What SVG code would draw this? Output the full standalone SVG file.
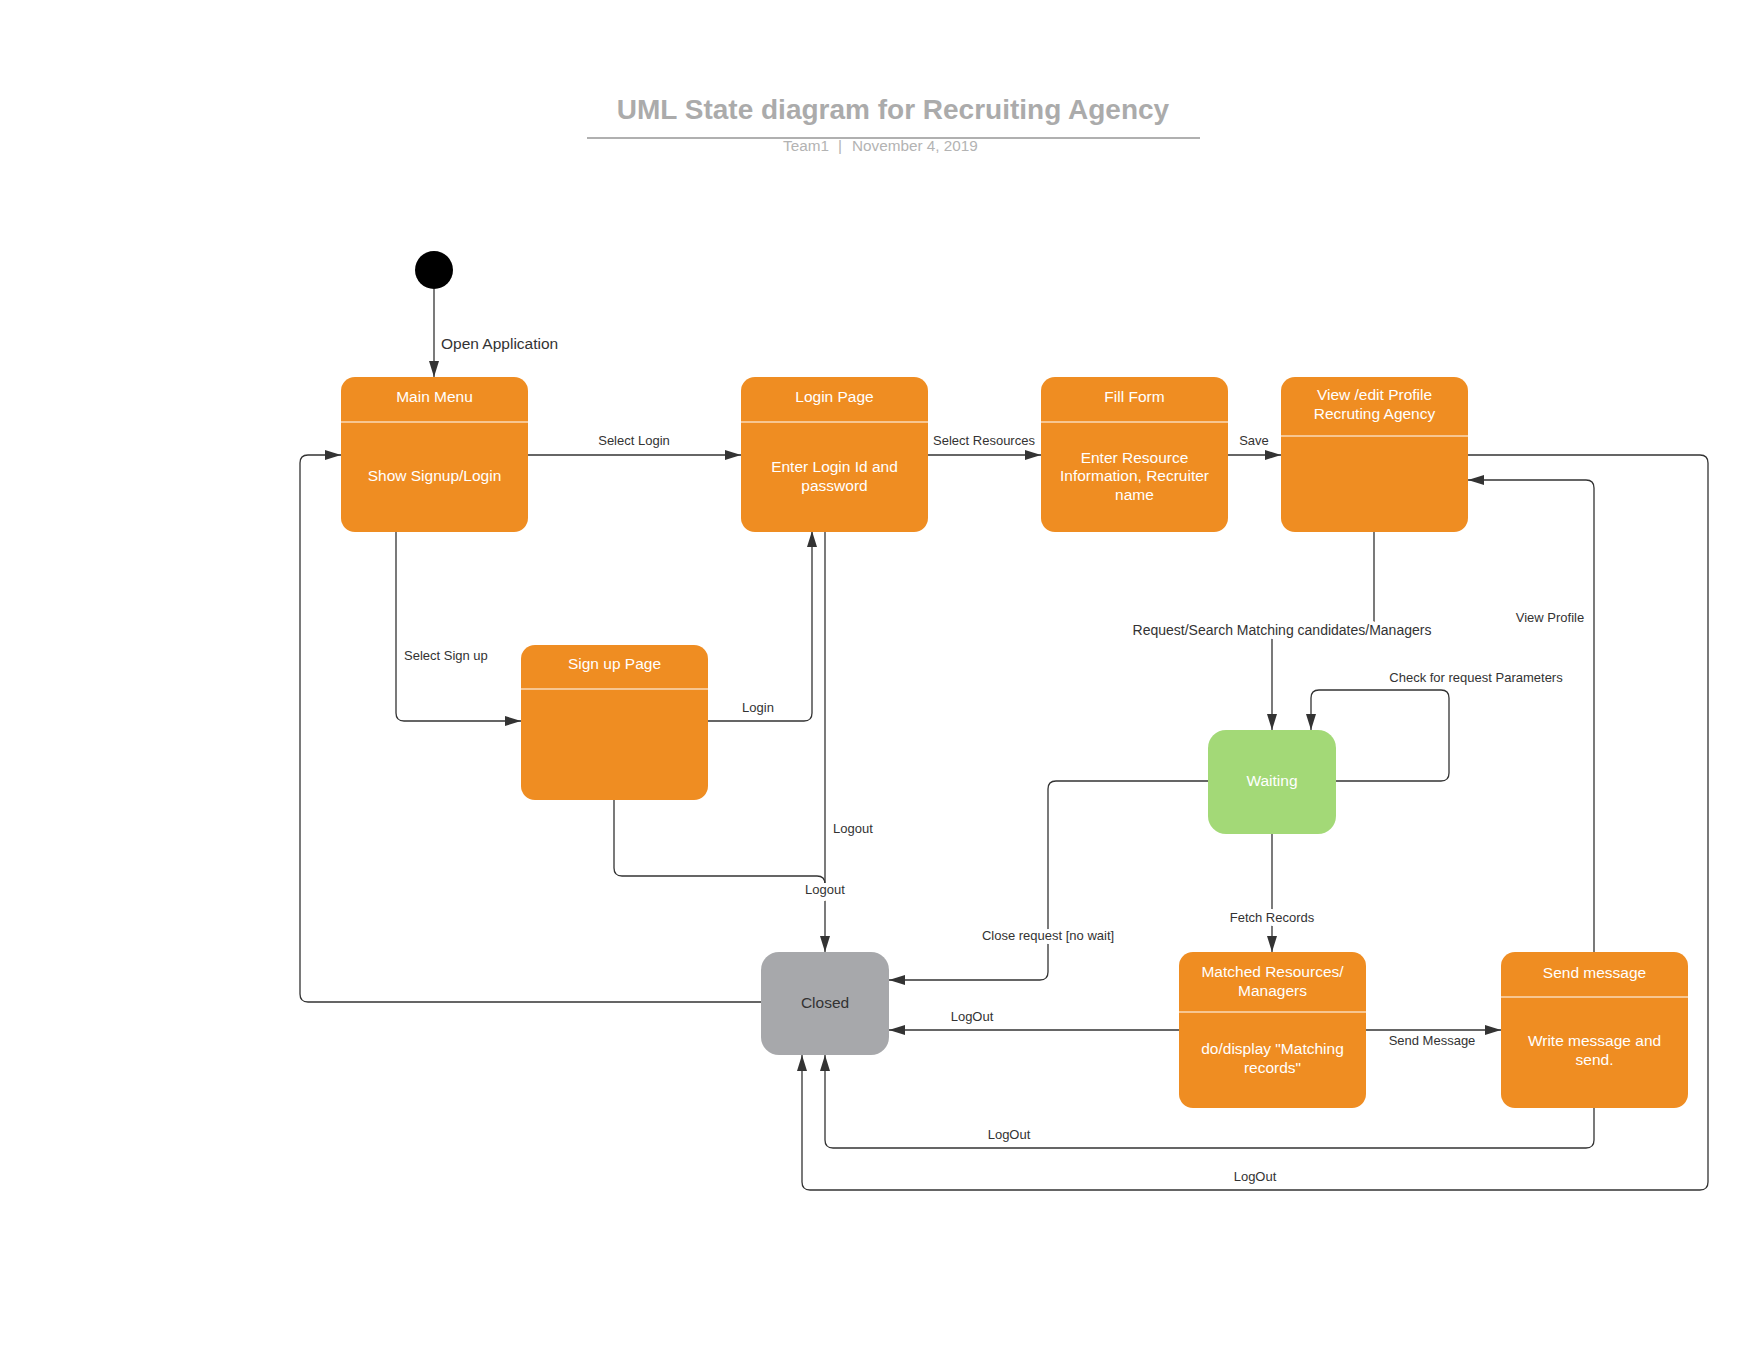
<svg xmlns="http://www.w3.org/2000/svg" width="1760" height="1360" viewBox="0 0 1760 1360">
  <style>
    .state { fill: #ef8d22; }
    .div { stroke: #ffffff; stroke-width: 1.2; }
    .nt { font-family: "Liberation Sans", Arial, sans-serif; font-size: 15.5px; fill: #ffffff; text-anchor: middle; }
    .edge { fill: none; stroke: #333333; stroke-width: 1.3; marker-end: url(#arrow); }
    .edge.plain { marker-end: none; }
    .lbl { font-family: "Liberation Sans", Arial, sans-serif; font-size: 13px; fill: #333333; text-anchor: middle; }
    .bg { stroke: #ffffff; stroke-width: 8; stroke-linejoin: round; paint-order: stroke; }
    .title { font-family: "Liberation Sans", Arial, sans-serif; font-size: 28px; font-weight: bold; fill: #ababab; text-anchor: middle; }
    .sub { font-family: "Liberation Sans", Arial, sans-serif; font-size: 15.3px; fill: #b3b3b3; }
  </style>
  <defs>
    <marker id="arrow" viewBox="0 0 16 10" refX="16" refY="5" markerWidth="16" markerHeight="10" markerUnits="userSpaceOnUse" orient="auto">
      <path d="M0,0 L16,5 L0,10 Z" fill="#333333"/>
    </marker>
  </defs>
  <rect width="1760" height="1360" fill="#ffffff"/>

  <!-- heading -->
  <g id="heading">
    <text class="title" x="893" y="119">UML State diagram for Recruiting Agency</text>
    <line x1="587" y1="138" x2="1200" y2="138" stroke="#b0b0b0" stroke-width="2"/>
    <text class="sub" x="783" y="151">Team1</text>
    <text class="sub" x="838" y="151">|</text>
    <text class="sub" x="852" y="151">November 4, 2019</text>
  </g>

  <!-- transitions -->
  <g id="connectors">
    <path class="edge" d="M434 289 V377"/>
    <path class="edge" d="M528 455 H741"/>
    <path class="edge" d="M928 455 H1041"/>
    <path class="edge" d="M1228 455 H1281"/>
    <path class="edge" d="M396 531 V713 Q396 721 404 721 H521"/>
    <path class="edge" d="M708 721 H804 Q812 721 812 713 V531"/>
    <path class="edge" d="M825 531 V952"/>
    <path class="edge plain" d="M614 799 V868 Q614 876 622 876 H817 Q825 876 825 884"/>
    <path class="edge" d="M1374 531 V630 H1272 V730"/>
    <path class="edge" d="M1336 781 H1441 Q1449 781 1449 773 V698 Q1449 690 1441 690 H1319 Q1311 690 1311 698 V730"/>
    <path class="edge" d="M1208 781 H1056 Q1048 781 1048 789 V972 Q1048 980 1040 980 H889"/>
    <path class="edge" d="M1272 834 V952"/>
    <path class="edge" d="M1179 1030 H889"/>
    <path class="edge" d="M1366 1030 H1501"/>
    <path class="edge" d="M1594 952 V488 Q1594 480 1586 480 H1468"/>
    <path class="edge" d="M1594 1108 V1140 Q1594 1148 1586 1148 H833 Q825 1148 825 1140 V1055"/>
    <path class="edge" d="M1468 455 H1700 Q1708 455 1708 463 V1182 Q1708 1190 1700 1190 H810 Q802 1190 802 1182 V1055"/>
    <path class="edge" d="M761 1002 H308 Q300 1002 300 994 V463 Q300 455 308 455 H341"/>

    <text class="lbl" x="441" y="349" style="text-anchor:start;font-size:15.5px">Open Application</text>
    <text class="lbl" x="634" y="444.5">Select Login</text>
    <text class="lbl" x="984" y="444.5">Select Resources</text>
    <text class="lbl" x="1254" y="444.5">Save</text>
    <text class="lbl" x="404" y="660" style="text-anchor:start">Select Sign up</text>
    <text class="lbl" x="758" y="711.5">Login</text>
    <text class="lbl" x="833" y="832.5" style="text-anchor:start">Logout</text>
    <text class="lbl bg" x="825" y="893.5">Logout</text>
    <text class="lbl bg" x="1282" y="634.5" style="font-size:14px">Request/Search Matching candidates/Managers</text>
    <text class="lbl" x="1550" y="621.5">View Profile</text>
    <text class="lbl" x="1476" y="681.5">Check for request Parameters</text>
    <text class="lbl bg" x="1048" y="939.5">Close request [no wait]</text>
    <text class="lbl bg" x="1272" y="921.5">Fetch Records</text>
    <text class="lbl" x="972" y="1020.5">LogOut</text>
    <text class="lbl" x="1432" y="1045">Send Message</text>
    <text class="lbl" x="1009" y="1138.5">LogOut</text>
    <text class="lbl" x="1255" y="1180.5">LogOut</text>
  </g>

  <!-- states -->
  <g id="initial">
    <circle cx="434" cy="270" r="19" fill="#000000"/>
  </g>

  <g id="main-menu">
    <rect class="state" x="341" y="377" width="187" height="155" rx="14"/>
    <line class="div" x1="341" y1="422" x2="528" y2="422"/>
    <text class="nt" x="434.5" y="401.5">Main Menu</text>
    <text class="nt" x="434.5" y="480.5">Show Signup/Login</text>
  </g>

  <g id="login-page">
    <rect class="state" x="741" y="377" width="187" height="155" rx="14"/>
    <line class="div" x1="741" y1="422" x2="928" y2="422"/>
    <text class="nt" x="834.5" y="401.5">Login Page</text>
    <text class="nt" x="834.5" y="471.5">Enter Login Id and</text>
    <text class="nt" x="834.5" y="490.5">password</text>
  </g>

  <g id="fill-form">
    <rect class="state" x="1041" y="377" width="187" height="155" rx="14"/>
    <line class="div" x1="1041" y1="422" x2="1228" y2="422"/>
    <text class="nt" x="1134.5" y="401.5">Fill Form</text>
    <text class="nt" x="1134.5" y="462.5">Enter Resource</text>
    <text class="nt" x="1134.5" y="481">Information, Recruiter</text>
    <text class="nt" x="1134.5" y="499.5">name</text>
  </g>

  <g id="view-profile">
    <rect class="state" x="1281" y="377" width="187" height="155" rx="14"/>
    <line class="div" x1="1281" y1="436" x2="1468" y2="436"/>
    <text class="nt" x="1374.5" y="399.5">View /edit Profile</text>
    <text class="nt" x="1374.5" y="418.5">Recruting Agency</text>
  </g>

  <g id="signup-page">
    <rect class="state" x="521" y="645" width="187" height="155" rx="14"/>
    <line class="div" x1="521" y1="689" x2="708" y2="689"/>
    <text class="nt" x="614.5" y="668.5">Sign up Page</text>
  </g>

  <g id="waiting">
    <rect x="1208" y="730" width="128" height="104" rx="18" fill="#a3d977"/>
    <text class="nt" x="1272" y="785.5">Waiting</text>
  </g>

  <g id="closed">
    <rect x="761" y="952" width="128" height="103" rx="18" fill="#a7a8ab"/>
    <text class="nt" x="825" y="1007.5" style="fill:#333333">Closed</text>
  </g>

  <g id="matched">
    <rect class="state" x="1179" y="952" width="187" height="156" rx="14"/>
    <line class="div" x1="1179" y1="1012" x2="1366" y2="1012"/>
    <text class="nt" x="1272.5" y="976.5">Matched Resources/</text>
    <text class="nt" x="1272.5" y="995.5">Managers</text>
    <text class="nt" x="1272.5" y="1053.5">do/display "Matching</text>
    <text class="nt" x="1272.5" y="1072.5">records"</text>
  </g>

  <g id="send-message">
    <rect class="state" x="1501" y="952" width="187" height="156" rx="14"/>
    <line class="div" x1="1501" y1="997" x2="1688" y2="997"/>
    <text class="nt" x="1594.5" y="977.5">Send message</text>
    <text class="nt" x="1594.5" y="1046">Write message and</text>
    <text class="nt" x="1594.5" y="1065">send.</text>
  </g>
</svg>
